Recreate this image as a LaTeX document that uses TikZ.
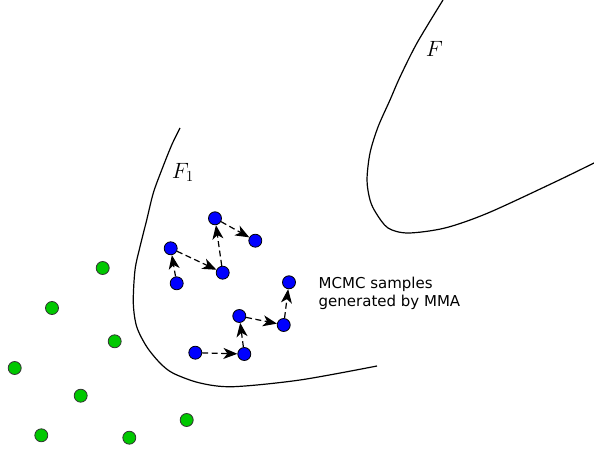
\documentclass[tikz,border=0pt]{standalone}
\usepackage{fontspec}
\newfontfamily\labelfont{DejaVu Sans}
\usetikzlibrary{arrows.meta}
\tikzset{
  bnode/.style={circle, draw=black, line width=0.8pt, fill={rgb,255:red,0;green,0;blue,255}, minimum size=13pt, inner sep=0pt},
  gnode/.style={circle, draw=black!80, line width=0.8pt, fill={rgb,255:red,0;green,200;blue,0}, minimum size=13pt, inner sep=0pt},
  arr/.style={line width=1.2pt, dash pattern=on 6pt off 3.5pt, -{Stealth[length=14pt,width=11pt,inset=4pt]}},
  boundary/.style={line width=1.2pt, black},
  mathlabel/.style={font=\fontsize{17.28}{17.28}\selectfont, inner sep=0pt},
}
\begin{document}
\begin{tikzpicture}[x=1pt,y=-1pt]
\useasboundingbox (0,0) rectangle (594,454);
% boundaries
\draw[boundary] plot[smooth, tension=0.5] coordinates {(443,0) (417,43) (400,77) (390,100) (378,127) (370,153) (367,180) (370,200) (376,213) (388,228) (408,233) (445,228) (488,213) (555,182) (594,163)};
\draw[boundary] plot[smooth, tension=0.5] coordinates {(180,128) (171.7,145) (161.7,170) (153.3,193) (146.7,220) (140,246.7) (135,270) (133.3,303) (136.7,326.7) (146.7,346.7) (160,363) (173.3,373.3) (200,383) (233,386.7) (300,380) (377,366)};
\node[mathlabel] (lF) at (434.5,49) {\scalebox{1.28}{$F$}};
\node[mathlabel] (lF1) at (183,172.5) {\scalebox{1.28}{$F_1$}};
% green samples
\node[gnode] (g1) at (102.7,268) {};
\node[gnode] (g2) at (52,308) {};
\node[gnode] (g3) at (114.7,341.3) {};
\node[gnode] (g4) at (14.7,368) {};
\node[gnode] (g5) at (80.7,395.7) {};
\node[gnode] (g6) at (186.7,420) {};
\node[gnode] (g7) at (41.3,435.3) {};
\node[gnode] (g8) at (129.3,437.7) {};
% chain 1
\node[bnode] (a1) at (176.7,283.3) {};
\node[bnode] (a2) at (170.7,248.3) {};
\node[bnode] (a3) at (222.7,272.7) {};
\node[bnode] (a4) at (215,218.3) {};
\node[bnode] (a5) at (255.3,240.7) {};
\draw[arr] (a1) -- (a2);
\draw[arr] (a2) -- (a3);
\draw[arr] (a3) -- (a4);
\draw[arr] (a4) -- (a5);
% chain 2
\node[bnode] (c1) at (195.3,352.7) {};
\node[bnode] (c2) at (244.3,354) {};
\node[bnode] (c3) at (239.3,316) {};
\node[bnode] (c4) at (283.7,325) {};
\node[bnode] (c5) at (289,282.3) {};
\draw[arr] (c1) -- (c2);
\draw[arr] (c2) -- (c3);
\draw[arr] (c3) -- (c4);
\draw[arr] (c4) -- (c5);
% label
\node[anchor=base west, align=left, inner sep=0pt, font=\labelfont\fontsize{15}{17.5}\selectfont] (txt) at (318.5,306) {MCMC samples\\generated by MMA};
\end{tikzpicture}
\end{document}
